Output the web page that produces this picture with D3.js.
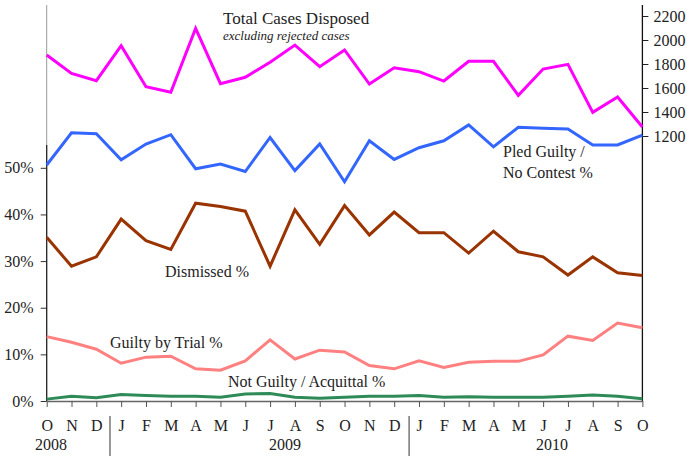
<!DOCTYPE html>
<html lang="en">
<head>
  <meta charset="UTF-8">
  <script src="https://d3js.org/d3.v7.min.js"></script>
  <style>
    body { margin: 0; background: #fff; }
    text { font-family: "Liberation Serif", "Times New Roman", serif; fill: #222; }
  </style>
</head>
<body>
  <svg id="chart" width="687" height="456"></svg>
  <script>
    // months Oct 2008 .. Oct 2010
    var months = ['O','N','D','J','F','M','A','M','J','J','A','S','O','N','D','J','F','M','A','M','J','J','A','S','O'];
    var years = ['2008', '2009', '2010'];

    var totalCases = [1875, 1722, 1661, 1953, 1611, 1564, 2097, 1636, 1689, 1814, 1958, 1778, 1917,
                      1633, 1769, 1736, 1658, 1822, 1822, 1539, 1758, 1797, 1397, 1525, 1275];
    var pledGuilty = [50.6, 57.5, 57.3, 51.7, 55.1, 57.1, 49.8, 50.8, 49.2, 56.5, 49.4, 55.1, 47.0,
                      55.8, 51.8, 54.3, 55.8, 59.2, 54.5, 58.7, 58.5, 58.3, 54.9, 54.9, 57.0];
    var dismissed = [35.1, 28.9, 30.9, 39.0, 34.4, 32.5, 42.4, 41.7, 40.7, 28.9, 41.0, 33.6, 41.9,
                     35.6, 40.5, 36.1, 36.1, 31.7, 36.4, 32.0, 30.9, 27.0, 30.9, 27.5, 26.9];
    var guiltyTrial = [13.8, 12.6, 11.1, 8.1, 9.4, 9.6, 6.9, 6.6, 8.6, 13.1, 9.0, 10.9, 10.5,
                       7.6, 6.9, 8.6, 7.2, 8.3, 8.5, 8.5, 9.9, 13.9, 13.0, 16.7, 15.7];
    var notGuilty = [0.4, 1.0, 0.7, 1.4, 1.2, 1.0, 1.0, 0.8, 1.5, 1.6, 0.8, 0.6, 0.8,
                     1.0, 1.0, 1.2, 0.8, 0.9, 0.8, 0.8, 0.8, 1.0, 1.3, 1.0, 0.5];
    var pctTicks = [0, 10, 20, 30, 40, 50];
    var caseTicks = [1200, 1400, 1600, 1800, 2000, 2200];

    var svg = d3.select('#chart');
    var x = d3.scaleLinear().domain([0, months.length - 1]).range([46.7, 642.4]);
    var yL = d3.scaleLinear().domain([0, 50]).range([401, 167.8]);
    var yR = d3.scaleLinear().domain([1200, 2200]).range([136, 16]);

    // left axis: faint line above, black axis below
    svg.append('line').attr('x1', x(0)).attr('x2', x(0)).attr('y1', 5).attr('y2', 145)
      .attr('stroke', '#999').attr('stroke-width', 1);
    var gl = svg.append('g').attr('transform', 'translate(' + x(0) + ',0)')
      .call(d3.axisLeft(yL).tickValues(pctTicks).tickFormat(d => d + '%').tickSize(6).tickPadding(7));
    gl.select('.domain').remove();
    gl.selectAll('.tick line').attr('stroke', '#333');
    gl.append('line').attr('y1', 145).attr('y2', yL(0)).attr('stroke', '#222').attr('stroke-width', 1.3);

    // right axis
    var gr = svg.append('g').attr('transform', 'translate(' + x(24) + ',0)')
      .call(d3.axisRight(yR).tickValues(caseTicks).tickFormat(d3.format('d')).tickSize(6).tickPadding(5));
    gr.select('.domain').remove();
    gr.selectAll('.tick line').attr('stroke', '#222');
    gr.append('line').attr('y1', 5).attr('y2', yL(0)).attr('stroke', '#111').attr('stroke-width', 1.3);

    // bottom axis
    var gb = svg.append('g').attr('transform', 'translate(0,' + yL(0) + ')')
      .call(d3.axisBottom(x).tickValues(d3.range(months.length)).tickFormat(i => months[i]).tickSize(6).tickPadding(13).tickSizeOuter(0));
    gb.select('.domain').attr('stroke', '#666').attr('stroke-width', 1.5);
    gb.selectAll('.tick line').attr('stroke', '#555');

    svg.selectAll('.tick text').style('font-size', '16px').attr('fill', '#222');

    // year separators and labels
    [2.55, 14.6].forEach(function(p) {
      svg.append('line').attr('x1', x(p)).attr('x2', x(p)).attr('y1', 416).attr('y2', 456)
        .attr('stroke', '#333').attr('stroke-width', 1);
    });
    var yearAt = [0.17, 9.6, 20.36];
    svg.selectAll('.year').data(years).enter().append('text')
      .attr('x', (d, i) => x(yearAt[i])).attr('y', 450).attr('text-anchor', 'middle')
      .style('font-size', '16px').text(d => d);

    // series
    var lineL = d3.line().x((d, i) => x(i)).y(d => yL(d));
    var lineR = d3.line().x((d, i) => x(i)).y(d => yR(d));
    var series = [
      { data: totalCases, line: lineR, color: '#ff00ff' },
      { data: pledGuilty, line: lineL, color: '#3366ff' },
      { data: dismissed, line: lineL, color: '#993300' },
      { data: guiltyTrial, line: lineL, color: '#ff8080' },
      { data: notGuilty, line: lineL, color: '#2e8b57' }
    ];
    series.forEach(function(s) {
      svg.append('path').datum(s.data).attr('d', s.line)
        .attr('fill', 'none').attr('stroke', s.color).attr('stroke-width', 3)
        .attr('stroke-linejoin', 'miter');
    });

    // series labels
    function label(txt, lx, ly, size, italic) {
      svg.append('text').attr('x', lx).attr('y', ly).style('font-size', size + 'px')
        .style('font-style', italic ? 'italic' : 'normal').text(txt);
    }
    label('Total Cases Disposed', 223, 24, 17);
    label('excluding rejected cases', 223, 40, 13, true);
    label('Pled Guilty /', 503, 157, 16);
    label('No Contest %', 503, 178, 16);
    label('Dismissed %', 165, 277, 16);
    label('Guilty by Trial %', 110, 348, 16);
    label('Not Guilty / Acquittal %', 228, 387, 16);
  </script>
</body>
</html>
